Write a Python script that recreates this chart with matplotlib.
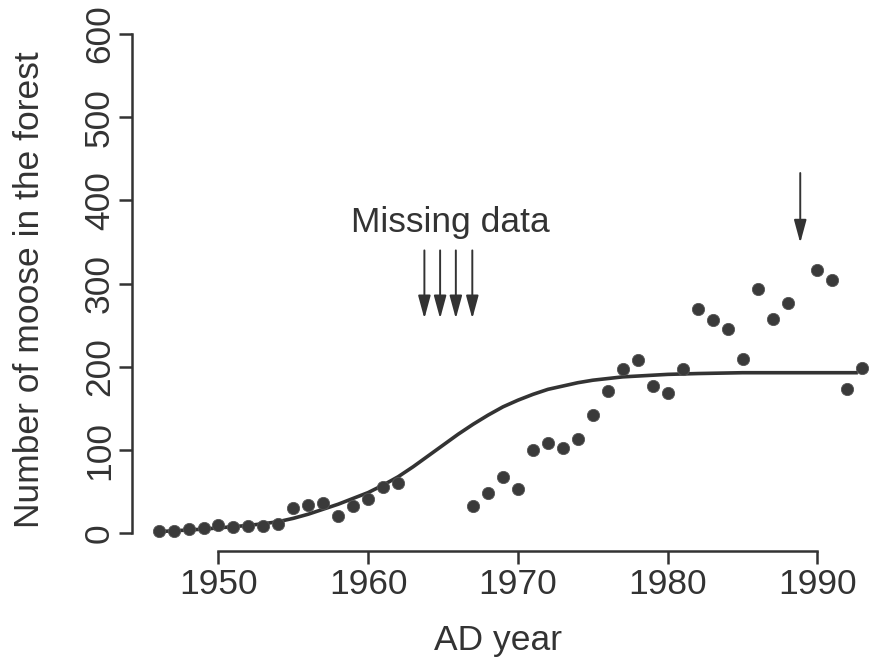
import matplotlib
matplotlib.use("Agg")
import matplotlib.pyplot as plt

plt.rcParams['font.family'] = ['Liberation Sans', 'DejaVu Sans']

# observed moose counts
years = [1946, 1947, 1948, 1949, 1950, 1951, 1952, 1953, 1954, 1955, 1956, 1957,
         1958, 1959, 1960, 1961, 1962,
         1967, 1968, 1969, 1970, 1971, 1972, 1973, 1974, 1975, 1976, 1977, 1978,
         1979, 1980, 1981, 1982, 1983, 1984, 1985, 1986, 1987, 1988, 1990, 1991,
         1992, 1993]
moose = [3, 3, 5, 6, 10, 8, 9, 9, 11, 31, 34, 37,
         21, 33, 41, 56, 60,
         33, 48, 68, 53, 100, 108, 102, 113, 142, 171, 198, 208,
         177, 169, 198, 270, 256, 245, 210, 294, 258, 277, 316, 304,
         174, 199]

# logistic model curve
curve_years = [1946, 1947, 1948, 1949, 1950, 1951, 1952, 1953, 1954, 1955, 1956,
               1957, 1958, 1959, 1960, 1961, 1962, 1963, 1964, 1965, 1966, 1967,
               1968, 1969, 1970, 1971, 1972, 1973, 1974, 1975, 1976, 1977, 1978,
               1979, 1980, 1982, 1985, 1990, 1992.7]
curve_vals = [2, 3, 4, 5, 6.5, 8, 9.5, 11.5, 14, 18, 23,
              29, 35, 42, 49, 58, 68, 80, 93, 106, 119, 131,
              142, 152, 160, 167, 173, 177, 181, 184, 186, 188, 189,
              190, 191, 192, 193, 193, 193]

missing_arrow_x = [1963.75, 1964.8, 1965.85, 1966.95]
missing_label = "Missing data"
single_arrow_x = 1988.85

x_ticks = [1950, 1960, 1970, 1980, 1990]
y_ticks = [0, 100, 200, 300, 400, 500, 600]

ink = '#333333'
fs = 25.5

fig = plt.figure(figsize=(8.8, 6.68), dpi=100)
ax = fig.add_axes([0.15, 0.17515, 0.8386, 0.79491])
ax.set_xlim(1944.224, 1993.506)
ax.set_ylim(-21.27, 616.9)

ax.plot(curve_years, curve_vals, color=ink, lw=2.6, solid_capstyle='butt', zorder=2)
ax.plot(years, moose, linestyle='none', marker='o', markersize=8.8,
        markerfacecolor='#3a3a3a', markeredgecolor='#555555', markeredgewidth=0.6, zorder=3)

arrow_props = dict(arrowstyle='-|>,head_length=0.7,head_width=0.19', color=ink,
                   lw=1.4, shrinkA=0, shrinkB=0, mutation_scale=20)
for xa in missing_arrow_x:
    ax.annotate('', xy=(xa, 258), xytext=(xa, 340), arrowprops=arrow_props)
ax.text(1965.46, 374, missing_label, ha='center', va='center', fontsize=fs, color=ink)
ax.annotate('', xy=(single_arrow_x, 349), xytext=(single_arrow_x, 433), arrowprops=arrow_props)

for s in ['top', 'right']:
    ax.spines[s].set_visible(False)
ax.spines['left'].set_bounds(0, 600)
ax.spines['bottom'].set_bounds(1950, 1990)
for s in ['left', 'bottom']:
    ax.spines[s].set_linewidth(1.8)
    ax.spines[s].set_color(ink)

ax.set_xticks(x_ticks)
ax.set_yticks(y_ticks)
ax.tick_params(axis='both', direction='out', length=9.5, width=1.8, color=ink,
               labelsize=fs, labelcolor=ink)
ax.tick_params(axis='x', pad=3)
ax.tick_params(axis='y', pad=2, labelrotation=90)
for lab in ax.get_yticklabels():
    lab.set_va('center')

ax.set_xlabel('AD year', fontsize=fs, color=ink)
ax.xaxis.set_label_coords(0.496, -0.1864)
ax.xaxis.label.set_va('baseline')
ax.set_ylabel('Number of moose in the forest', fontsize=fs, color=ink)
ax.yaxis.set_label_coords(-0.139, 0.493)
ax.yaxis.label.set_va('center')

fig.savefig('out.png', dpi=100, facecolor='white')
